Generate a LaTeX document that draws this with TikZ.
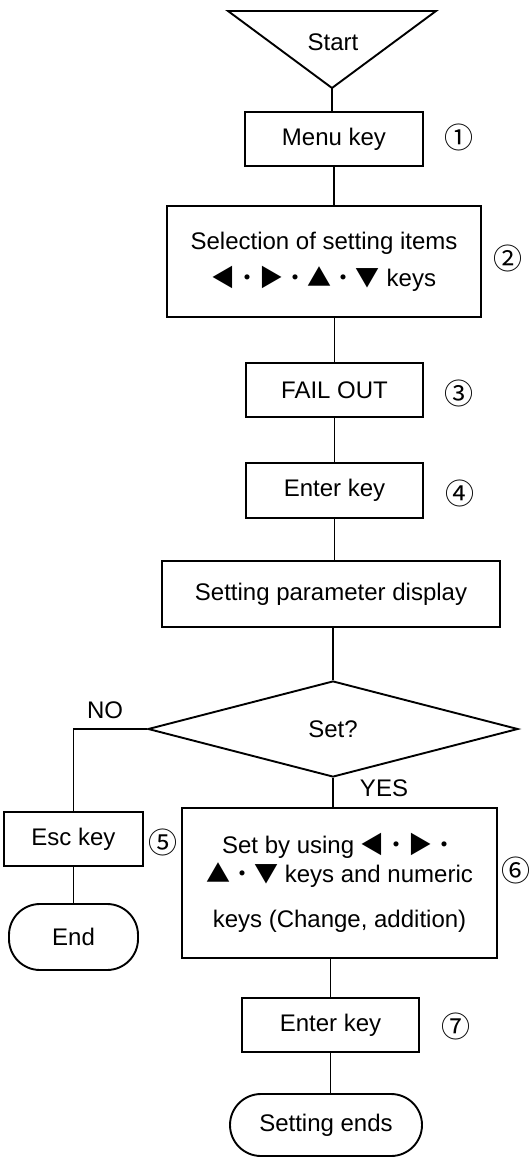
\documentclass[tikz,border=0pt]{standalone}
\usepackage{fontspec}
\setmainfont{Liberation Sans}
\newfontfamily\cjkfont{Noto Sans CJK JP}
\usetikzlibrary{shapes.geometric}

\begin{document}
\begin{tikzpicture}[x=0.5pt, y=-0.5pt, line width=0.95pt,
    every node/.style={font=\fontsize{12pt}{14pt}\selectfont, inner sep=0pt},
    stepbox/.style={draw, rectangle, align=center},
    endbox/.style={draw, rectangle, rounded corners=15.5pt},
    decide/.style={draw, diamond},
    num/.style={font=\fontsize{14.5pt}{16pt}\cjkfont}]
\useasboundingbox (0,0) rectangle (529,1160);
% start
\draw (228,11) -- (436,11) -- (332,88) -- cycle;
\node (start) at (333,42) {Start};
\coordinate (starttip) at (332,88);

% main column
\node[stepbox, minimum width=89pt, minimum height=27pt] (menu) at (334,139) {Menu key};
\node[stepbox, minimum width=157pt, minimum height=55.5pt] (sel) at (324,261.5)
    {Selection of setting items\\[4.5pt]{\cjkfont ◀・▶・▲・▼} keys};
\node[stepbox, minimum width=88.5pt, minimum height=27pt] (fail) at (334.5,390) {FAIL OUT};
\node[stepbox, minimum width=88.5pt, minimum height=27.5pt] (enter) at (334.5,490.5) {Enter key};
\node[stepbox, minimum width=169pt, minimum height=33pt] (param) at (331,594) {Setting parameter display};
\node[decide, minimum width=185pt, minimum height=48pt] (dia) at (333,729) {Set?};
\node[stepbox, minimum width=157.5pt, minimum height=75pt] (setbox) at (339.5,883)
    {Set by using {\cjkfont ◀・▶・}\\[0.5pt]{\cjkfont ▲・▼} keys and numeric\\[8.5pt]keys (Change, addition)};
\node[stepbox, minimum width=88.5pt, minimum height=27pt] (enter2) at (330.5,1025) {Enter key};
\node[endbox, minimum width=96pt, minimum height=31pt] (ends) at (326,1125) {Setting ends};

% NO branch
\node[stepbox, minimum width=69.5pt, minimum height=27pt] (esc) at (73.5,839) {Esc key};
\node[endbox, minimum width=64.5pt, minimum height=33pt] (end) at (73.5,937) {End};

% labels
\node (no) at (105,710) {NO};
\node (yes) at (384,788) {YES};
\node[num] (n1) at (459,137) {①};
\node[num] (n2) at (508,258) {②};
\node[num] (n3) at (459,393) {③};
\node[num] (n4) at (460,493) {④};
\node[num] (n5) at (163,842) {⑤};
\node[num] (n6) at (516,870) {⑥};
\node[num] (n7) at (456,1026) {⑦};

% connectors
\draw (starttip) -- (starttip |- menu.north);
\draw (menu.south) -- (menu.south |- sel.north);
\draw (fail.north |- sel.south) -- (fail.north);
\draw (fail.south) -- (enter.north);
\draw (enter.south) -- (enter.south |- param.north);
\draw (dia.north |- param.south) -- (dia.north);
\draw (dia.south) -- (dia.south |- setbox.north);
\draw (enter2.north |- setbox.south) -- (enter2.north);
\draw (enter2.south) -- (enter2.south |- ends.north);
\draw (dia.west) -| (esc.north);
\draw (esc.south) -- (end.north);
\end{tikzpicture}
\end{document}
